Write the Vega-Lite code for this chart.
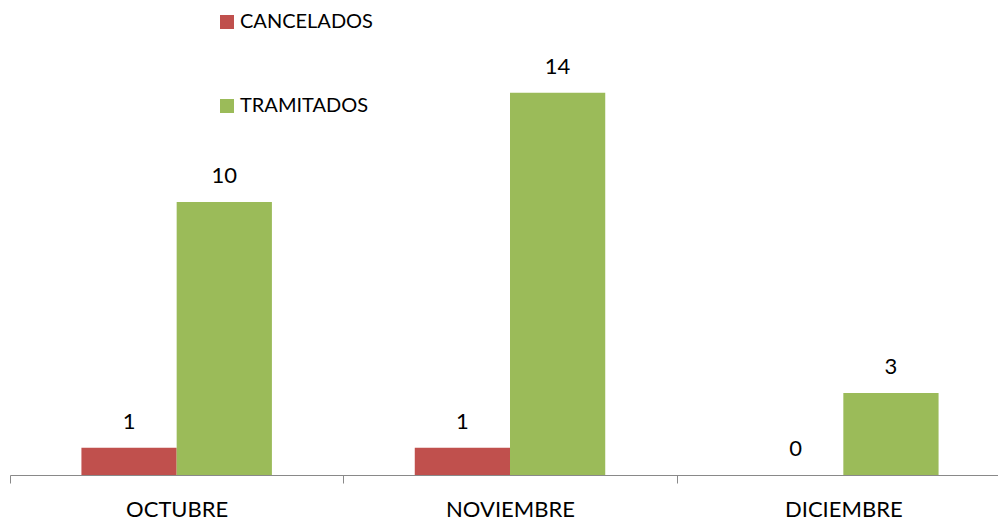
{
  "$schema": "https://vega.github.io/schema/vega-lite/v6.json",
  "autosize": {"type": "none"},
  "width": 1000,
  "height": 437,
  "padding": {"left": 10, "top": 38, "right": 0, "bottom": 45},
  "background": "white",
  "config": {"view": {"stroke": null}, "font": "Lato"},
  "data": {"values": [
    {"mes": "OCTUBRE", "serie": "CANCELADOS", "valor": 1},
    {"mes": "OCTUBRE", "serie": "TRAMITADOS", "valor": 10},
    {"mes": "NOVIEMBRE", "serie": "CANCELADOS", "valor": 1},
    {"mes": "NOVIEMBRE", "serie": "TRAMITADOS", "valor": 14},
    {"mes": "DICIEMBRE", "serie": "CANCELADOS", "valor": 0},
    {"mes": "DICIEMBRE", "serie": "TRAMITADOS", "valor": 3}
  ]},
  "encoding": {
    "x": {"field": "mes", "type": "nominal", "sort": ["OCTUBRE", "NOVIEMBRE", "DICIEMBRE"],
      "scale": {"paddingInner": 0, "paddingOuter": 0},
      "axis": {"title": null, "labelAngle": 0, "tickBand": "extent", "domainColor": "#898989", "tickColor": "#898989", "tickSize": 8, "labelFontSize": 22, "labelColor": "#000000", "labelPadding": 16, "labelFont": "Lato"}},
    "xOffset": {"field": "serie", "type": "nominal", "scale": {"paddingInner": 0, "paddingOuter": 0.75}},
    "y": {"field": "valor", "type": "quantitative", "scale": {"domain": [0, 16]}, "axis": null}
  },
  "layer": [
    {
      "mark": {"type": "bar"},
      "encoding": {
        "color": {"field": "serie", "type": "nominal",
          "scale": {"domain": ["CANCELADOS", "TRAMITADOS"], "range": ["#C0504D", "#9BBB59"]},
          "legend": {"title": null, "orient": "none", "legendX": 207, "legendY": -26, "symbolType": "square", "symbolSize": 196, "symbolStrokeWidth": 0, "labelFontSize": 20, "labelColor": "#000000", "labelFont": "Lato", "rowPadding": 64, "symbolOffset": 0, "labelOffset": 3}}
      }
    },
    {
      "mark": {"type": "text", "baseline": "bottom", "dy": -14, "fontSize": 22, "color": "#000000", "font": "Lato"},
      "encoding": {"text": {"field": "valor", "type": "quantitative"}}
    }
  ]
}
